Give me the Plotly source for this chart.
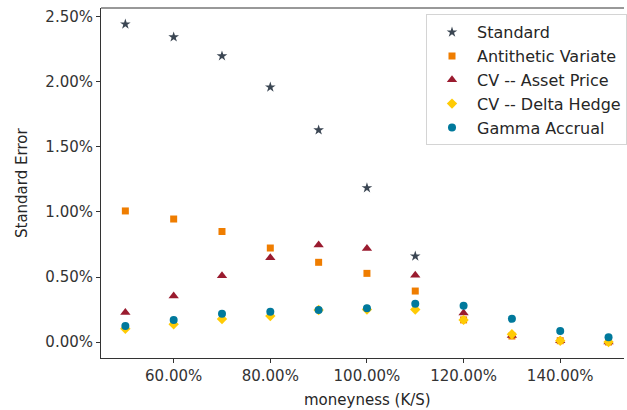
import plotly.graph_objects as go

# moneyness K/S
moneyness = [0.5, 0.6, 0.7, 0.8, 0.9, 1.0, 1.1, 1.2, 1.3, 1.4, 1.5]

# standard error per estimator (fractions); None = not plotted
standard = [0.02445, 0.02346, 0.02200, 0.01960, 0.01630, 0.01185, 0.00660, None, None, None, None]
antithetic = [0.01008, 0.00946, 0.00850, 0.00723, 0.00613, 0.00528, 0.00392, 0.00170, 0.00046, 0.00010, 0.00000]
cv_asset = [0.00226, 0.00354, 0.00510, 0.00648, 0.00746, 0.00720, 0.00513, 0.00223, 0.00050, 0.00010, 0.00000]
cv_delta = [0.00102, 0.00136, 0.00177, 0.00200, 0.00246, 0.00250, 0.00250, 0.00170, 0.00060, 0.00010, 0.00000]
gamma_accrual = [0.00123, 0.00169, 0.00218, 0.00233, 0.00246, 0.00259, 0.00295, 0.00279, 0.00179, 0.00085, 0.00036]

series = [
    ("Standard", standard, "star", "#3b4653", 8),
    ("Antithetic Variate", antithetic, "square", "#ef7d00", 7),
    ("CV -- Asset Price", cv_asset, "triangle-up", "#9a1b2f", 9),
    ("CV -- Delta Hedge", cv_delta, "diamond", "#ffcb05", 8),
    ("Gamma Accrual", gamma_accrual, "circle", "#00799c", 8),
]

FONT = "DejaVu Sans, sans-serif"
AXIS_COLOR = "#333333"

fig = go.Figure()
for name, values, symbol, color, size in series:
    fig.add_trace(go.Scatter(
        x=moneyness, y=values, mode="markers", name=name,
        marker=dict(symbol=symbol, color=color, size=size, line=dict(width=0)),
    ))

fig.update_layout(
    width=627, height=410,
    margin=dict(l=101, r=0, t=8, b=52),
    paper_bgcolor="white", plot_bgcolor="white",
    font=dict(family=FONT, size=15, color="#333333"),
    showlegend=True,
    legend=dict(
        x=0.6217, y=0.982, xanchor="left", yanchor="top",
        bgcolor="white", bordercolor="#d4d4d4", borderwidth=1,
        font=dict(family=FONT, size=16, color="#262626"),
        itemwidth=40,
    ),
    xaxis=dict(
        range=[0.4496, 1.532], tickmode="array",
        tickvals=[0.6, 0.8, 1.0, 1.2, 1.4], tickformat=".2%",
        showgrid=False, zeroline=False,
        showline=True, linecolor=AXIS_COLOR, linewidth=1,
        ticks="outside", ticklen=4, tickcolor=AXIS_COLOR,
    ),
    yaxis=dict(
        range=[-0.00123, 0.02569], tickmode="array",
        tickvals=[0, 0.005, 0.01, 0.015, 0.02, 0.025], tickformat=".2%",
        showgrid=False, zeroline=False,
        showline=True, linecolor=AXIS_COLOR, linewidth=1,
        ticks="outside", ticklen=4, tickcolor=AXIS_COLOR,
    ),
    shapes=[dict(type="line", xref="paper", yref="paper",
                 x0=0, x1=1, y0=1, y1=1,
                 line=dict(color=AXIS_COLOR, width=1))],
    annotations=[
        dict(text="moneyness (K/S)", xref="paper", yref="paper",
             x=0.5095, y=0, yshift=-42, xanchor="center", yanchor="middle",
             showarrow=False, font=dict(family=FONT, size=15, color="#262626")),
        dict(text="Standard Error", xref="paper", yref="paper",
             x=0, y=0.5, xshift=-79, textangle=-90,
             xanchor="center", yanchor="middle",
             showarrow=False, font=dict(family=FONT, size=15, color="#262626")),
    ],
)

fig.write_html("out.html")
